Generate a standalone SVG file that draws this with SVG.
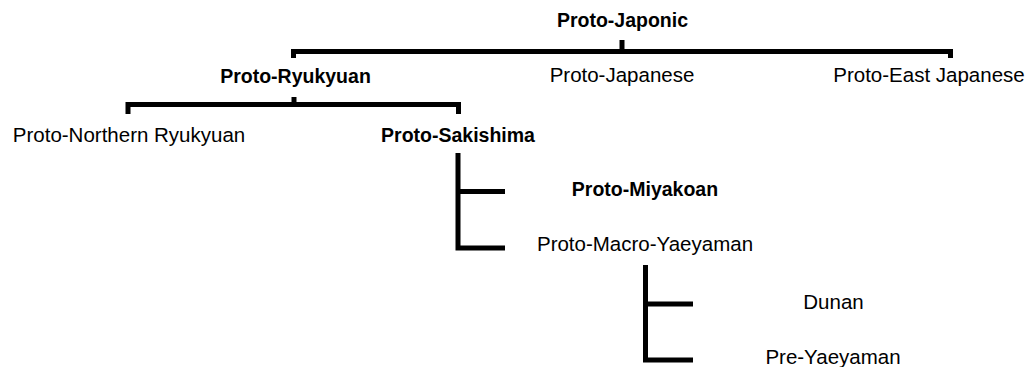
<svg xmlns="http://www.w3.org/2000/svg" width="1026" height="367" viewBox="0 0 1026 367">
  <style>
    .lbl { font-family: "Liberation Sans", Arial, sans-serif; font-size: 20.5px; fill: #000; text-anchor: middle; }
    .bold { font-weight: bold; font-size: 19.5px; }
    .br { fill: none; stroke: #000; stroke-width: 5; stroke-linejoin: miter; stroke-linecap: butt; }
  </style>
  <rect width="1026" height="367" fill="#fff"/>

  <!-- tree branches -->
  <g id="connectors">
    <path class="br" d="M293.5 58 V51.5 H950.5 V58"/>
    <path class="br" d="M622 40 V51.5"/>
    <path class="br" d="M128 114 V104.5 H458.5 V114"/>
    <path class="br" d="M294 97 V104.5"/>
    <path class="br" d="M458 153 V248 H505"/>
    <path class="br" d="M458 191.5 H505"/>
    <path class="br" d="M645.5 265 V360 H693"/>
    <path class="br" d="M645.5 304 H693"/>
  </g>

  <g id="proto-japonic"><text class="lbl bold" x="622.5" y="27">Proto-Japonic</text></g>
  <g id="proto-ryukyuan"><text class="lbl bold" x="295.5" y="83">Proto-Ryukyuan</text></g>
  <g id="proto-japanese"><text class="lbl" x="622" y="82">Proto-Japanese</text></g>
  <g id="proto-east-japanese"><text class="lbl" x="929" y="82">Proto-East Japanese</text></g>
  <g id="proto-northern-ryukyuan"><text class="lbl" x="129" y="142">Proto-Northern Ryukyuan</text></g>
  <g id="proto-sakishima"><text class="lbl bold" x="458" y="142">Proto-Sakishima</text></g>
  <g id="proto-miyakoan"><text class="lbl bold" x="645" y="196">Proto-Miyakoan</text></g>
  <g id="proto-macro-yaeyaman"><text class="lbl" x="645" y="251">Proto-Macro-Yaeyaman</text></g>
  <g id="dunan"><text class="lbl" x="833.5" y="309">Dunan</text></g>
  <g id="pre-yaeyaman"><text class="lbl" x="833" y="364">Pre-Yaeyaman</text></g>
</svg>
